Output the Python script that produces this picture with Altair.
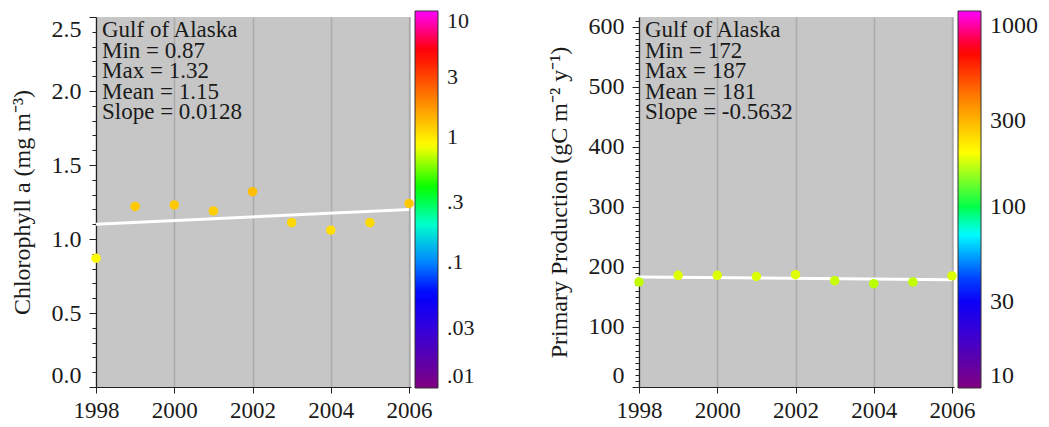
import altair as alt
import pandas as pd

# ---------------- data ----------------
years = [1998, 1999, 2000, 2001, 2002, 2003, 2004, 2005, 2006]
chl = [0.87, 1.22, 1.23, 1.19, 1.32, 1.11, 1.06, 1.11, 1.24]
pp = [175, 186, 186, 184, 187, 177, 172, 175, 185]

trend_years = [1998, 2006]
chl_trend = [1.10, 1.20]
pp_trend = [183.3, 178.7]

chl_stats = ["Gulf of Alaska", "Min = 0.87", "Max = 1.32", "Mean = 1.15", "Slope = 0.0128"]
pp_stats = ["Gulf of Alaska", "Min = 172", "Max = 187", "Mean = 181", "Slope = -0.5632"]

year_ticks = [1998, 2000, 2002, 2004, 2006]

rainbow = ["#800080", "#3300DD", "#0000FF", "#00FFFF", "#00FF00",
           "#FFFF00", "#FF8800", "#FF0000", "#FF00FF"]
chl_color_stops = [0.01, 0.03, 0.056, 0.17, 0.39, 0.85, 1.9, 4.8, 10]
pp_color_stops = [10, 21.5, 33, 71, 115, 200, 383, 728, 1212]
chl_cbar_ticks = [0.01, 0.03, 0.1, 0.3, 1, 3, 10]
pp_cbar_ticks = [10, 30, 100, 300, 1000]

FONT = "Liberation Serif"
BG = "#C6C6C6"
W, H = 315, 370


def panel(values, trend, stats, ytitle, ydomain, major, minor, stops,
          cbar_ticks, cbar_label_expr, cbar_font, ylabel_fmt):
    df = pd.DataFrame({"year": years, "value": values})
    tdf = pd.DataFrame({"year": trend_years, "value": trend})
    sdf = pd.DataFrame({"label": ["\n".join(stats)]})

    nminor = int(ydomain[1] / minor + 1e-9)
    minor_vals = [round(i * minor, 6) for i in range(nminor + 1)]
    ratio = round(major / minor)
    is_major = f"abs(datum.value/{minor} - {ratio}*round(datum.value/{major})) < 0.001"

    xscale = alt.Scale(domain=[1998, 2006.05], nice=False, zero=False)
    yscale = alt.Scale(domain=ydomain, nice=False, zero=False)

    xaxis = alt.Axis(values=year_ticks, format="d", grid=True, title=None,
                     tickSize=6, labelPadding=6, gridColor="#ABABAB",
                     gridWidth=1.5, labelFlush=False, labelFontSize=23)
    yaxis = alt.Axis(values=minor_vals, title=ytitle, grid=False,
                     labelExpr=f"{is_major} ? format(datum.value, '{ylabel_fmt}') : ''",
                     tickSize={"condition": {"test": is_major, "value": 7}, "value": 4},
                     labelPadding=8, titlePadding=17, labelFlush=True,
                     labelOverlap=False, labelFontSize=24)

    line = alt.Chart(tdf).mark_line(color="white", strokeWidth=3).encode(
        x=alt.X("year:Q", scale=xscale, axis=xaxis),
        y=alt.Y("value:Q", scale=yscale, axis=yaxis),
    )

    points = alt.Chart(df).mark_circle(size=90, opacity=1).encode(
        x=alt.X("year:Q", scale=xscale, axis=xaxis),
        y=alt.Y("value:Q", scale=yscale, axis=yaxis),
        color=alt.Color(
            "value:Q",
            scale=alt.Scale(type="log", domain=stops, range=rainbow, interpolate="rgb"),
            legend=alt.Legend(
                type="gradient", orient="none", legendX=W + 4, legendY=-6,
                direction="vertical", gradientLength=377, gradientThickness=23,
                title=None, values=cbar_ticks, labelExpr=cbar_label_expr,
                labelFont=FONT, labelFontSize=cbar_font, labelColor="#1a1a1a",
                labelOffset=9, labelOverlap=False,
                gradientStrokeColor="#333333", gradientStrokeWidth=1,
            ),
        ),
    )

    text = alt.Chart(sdf).mark_text(
        align="left", baseline="top", font=FONT, fontSize=23, lineHeight=20.5,
        lineBreak="\n", color="#1a1a1a",
    ).encode(
        x=alt.value(6),
        y=alt.value(2),
        text="label:N",
    )

    return alt.layer(line, points, text).properties(width=W, height=H)


left = panel(chl, chl_trend, chl_stats, "Chlorophyll a  (mg m⁻³)", [0, 2.5],
             0.5, 0.1, chl_color_stops, chl_cbar_ticks,
             "datum.value < 1 ? replace(toString(datum.value), '0.', '.') : toString(datum.value)",
             22, ".1f")
right = panel(pp, pp_trend, pp_stats, "Primary Production  (gC m⁻² y⁻¹)", [0, 616],
              100, 10, pp_color_stops, pp_cbar_ticks,
              "toString(datum.value)", 24, "d")

chart = alt.hconcat(left, right, spacing=72).resolve_scale(
    color="independent"
).resolve_legend(color="independent").properties(
    padding={"left": 2, "top": 0, "right": 2, "bottom": 2}
).configure_view(
    fill=BG, stroke=None
).configure_axis(
    labelFont=FONT, labelColor="#1a1a1a",
    titleFont=FONT, titleFontSize=24, titleFontWeight="normal", titleColor="#1a1a1a",
    domainColor="#222222", tickColor="#222222", domainWidth=1.2,
)

chart.save("out.html", embed_options={"renderer": "svg", "actions": False})
